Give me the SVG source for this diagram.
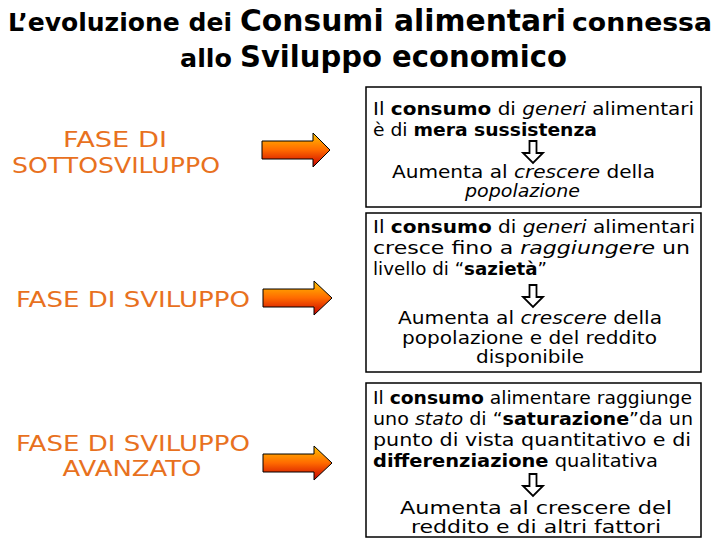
<svg xmlns="http://www.w3.org/2000/svg" width="720" height="540" viewBox="0 0 720 540">
<defs>
<linearGradient id="ag" x1="0" y1="0" x2="0" y2="1">
<stop offset="0" stop-color="#FFC200"/>
<stop offset="0.5" stop-color="#FF6A00"/>
<stop offset="1" stop-color="#C80000"/>
</linearGradient>
<style>
text{font-family:"DejaVu Sans","Liberation Sans",sans-serif;fill:#000}
.ts{font-size:25px;font-weight:bold}
.tb{font-size:31px;font-weight:bold}
.lab{font-size:22px;fill:#E8711E}
.bx{font-size:18px}
.sm{font-size:17px}
.b{font-weight:bold}
.i{font-style:italic}
.box{fill:#fff;stroke:#000;stroke-width:1.5}
.fat{fill:url(#ag);stroke:#000;stroke-width:1}
.dn{fill:#fff;stroke:#000;stroke-width:1.8;stroke-linejoin:miter}
</style>
</defs>
<rect width="720" height="540" fill="#fff"/>
<g id="title">
<text class="ts" x="8" y="31" textLength="224" lengthAdjust="spacingAndGlyphs">L’evoluzione dei</text>
<text class="tb" x="240" y="31" textLength="326" lengthAdjust="spacingAndGlyphs">Consumi alimentari</text>
<text class="ts" x="572" y="31" textLength="140" lengthAdjust="spacingAndGlyphs">connessa</text>
<text class="ts" x="180" y="67" textLength="52" lengthAdjust="spacingAndGlyphs">allo</text>
<text class="tb" x="240" y="67" textLength="327" lengthAdjust="spacingAndGlyphs">Sviluppo economico</text>
</g>
<g id="phase1">
<text class="lab" x="115" y="147" text-anchor="middle" textLength="104" lengthAdjust="spacingAndGlyphs">FASE DI</text>
<text class="lab" x="116" y="173" text-anchor="middle" textLength="208" lengthAdjust="spacingAndGlyphs">SOTTOSVILUPPO</text>
</g>
<g id="phase2">
<text class="lab" x="133" y="307" text-anchor="middle" textLength="234" lengthAdjust="spacingAndGlyphs">FASE DI SVILUPPO</text>
</g>
<g id="phase3">
<text class="lab" x="133" y="451" text-anchor="middle" textLength="234" lengthAdjust="spacingAndGlyphs">FASE DI SVILUPPO</text>
<text class="lab" x="132" y="476" text-anchor="middle" textLength="139" lengthAdjust="spacingAndGlyphs">AVANZATO</text>
</g>
<g id="connectors">
<path class="fat" d="M262,141 L313,141 L313,133 L330,150 L313,167 L313,159 L262,159 Z"/>
<path class="fat" d="M263,289 L314,289 L314,281 L332,298 L314,315 L314,307 L263,307 Z"/>
<path class="fat" d="M263,454 L314,454 L314,446 L332,463 L314,480 L314,472 L263,472 Z"/>
</g>
<g id="box1">
<rect class="box" x="366" y="87" width="335" height="120"/>
<text class="bx" x="373" y="115" textLength="321" lengthAdjust="spacingAndGlyphs">Il <tspan class="b">consumo</tspan> di <tspan class="i">generi</tspan> alimentari</text>
<text class="bx" x="373" y="136" textLength="224" lengthAdjust="spacingAndGlyphs">è di <tspan class="b">mera sussistenza</tspan></text>
<path class="dn" d="M529.5,141 L536.5,141 L536.5,153 L543,153 L533,163 L523,153 L529.5,153 Z"/>
<text class="bx" x="392" y="178" textLength="263" lengthAdjust="spacingAndGlyphs">Aumenta al <tspan class="i">crescere</tspan> della</text>
<text class="bx i" x="465" y="197" textLength="115" lengthAdjust="spacingAndGlyphs">popolazione</text>
</g>
<g id="box2">
<rect class="box" x="366" y="213" width="335" height="159"/>
<text class="bx" x="373" y="233" textLength="322" lengthAdjust="spacingAndGlyphs">Il <tspan class="b">consumo</tspan> di <tspan class="i">generi</tspan> alimentari</text>
<text class="bx" x="373" y="254" textLength="317" lengthAdjust="spacingAndGlyphs">cresce  fino  a  <tspan class="i">raggiungere</tspan>  un</text>
<text class="bx" x="373" y="275" textLength="174" lengthAdjust="spacingAndGlyphs">livello di “<tspan class="b">sazietà</tspan>”</text>
<path class="dn" d="M529.5,285 L536.5,285 L536.5,297 L543,297 L533,307 L523,297 L529.5,297 Z"/>
<text class="bx" x="398" y="324" textLength="264" lengthAdjust="spacingAndGlyphs">Aumenta al <tspan class="i">crescere</tspan> della</text>
<text class="bx" x="402" y="344" textLength="255" lengthAdjust="spacingAndGlyphs">popolazione e del reddito</text>
<text class="bx" x="476" y="363" textLength="108" lengthAdjust="spacingAndGlyphs">disponibile</text>
</g>
<g id="box3">
<rect class="box" x="366" y="383" width="335" height="154"/>
<text class="bx" x="373" y="404" textLength="319" lengthAdjust="spacingAndGlyphs">Il <tspan class="b">consumo</tspan> alimentare raggiunge</text>
<text class="bx" x="373" y="425" textLength="320" lengthAdjust="spacingAndGlyphs">uno <tspan class="i">stato</tspan> di “<tspan class="b">saturazione</tspan>”da un</text>
<text class="bx" x="373" y="446" textLength="318" lengthAdjust="spacingAndGlyphs">punto di vista  quantitativo e di</text>
<text class="bx" x="373" y="467" textLength="285" lengthAdjust="spacingAndGlyphs"><tspan class="b">differenziazione</tspan> qualitativa</text>
<path class="dn" d="M529.5,474 L536.5,474 L536.5,486 L543,486 L533,496 L523,486 L529.5,486 Z"/>
<text class="sm" x="400" y="514" textLength="272" lengthAdjust="spacingAndGlyphs">Aumenta  al  crescere  del</text>
<text class="sm" x="411" y="533" textLength="250" lengthAdjust="spacingAndGlyphs">reddito e di altri fattori</text>
</g>
</svg>
